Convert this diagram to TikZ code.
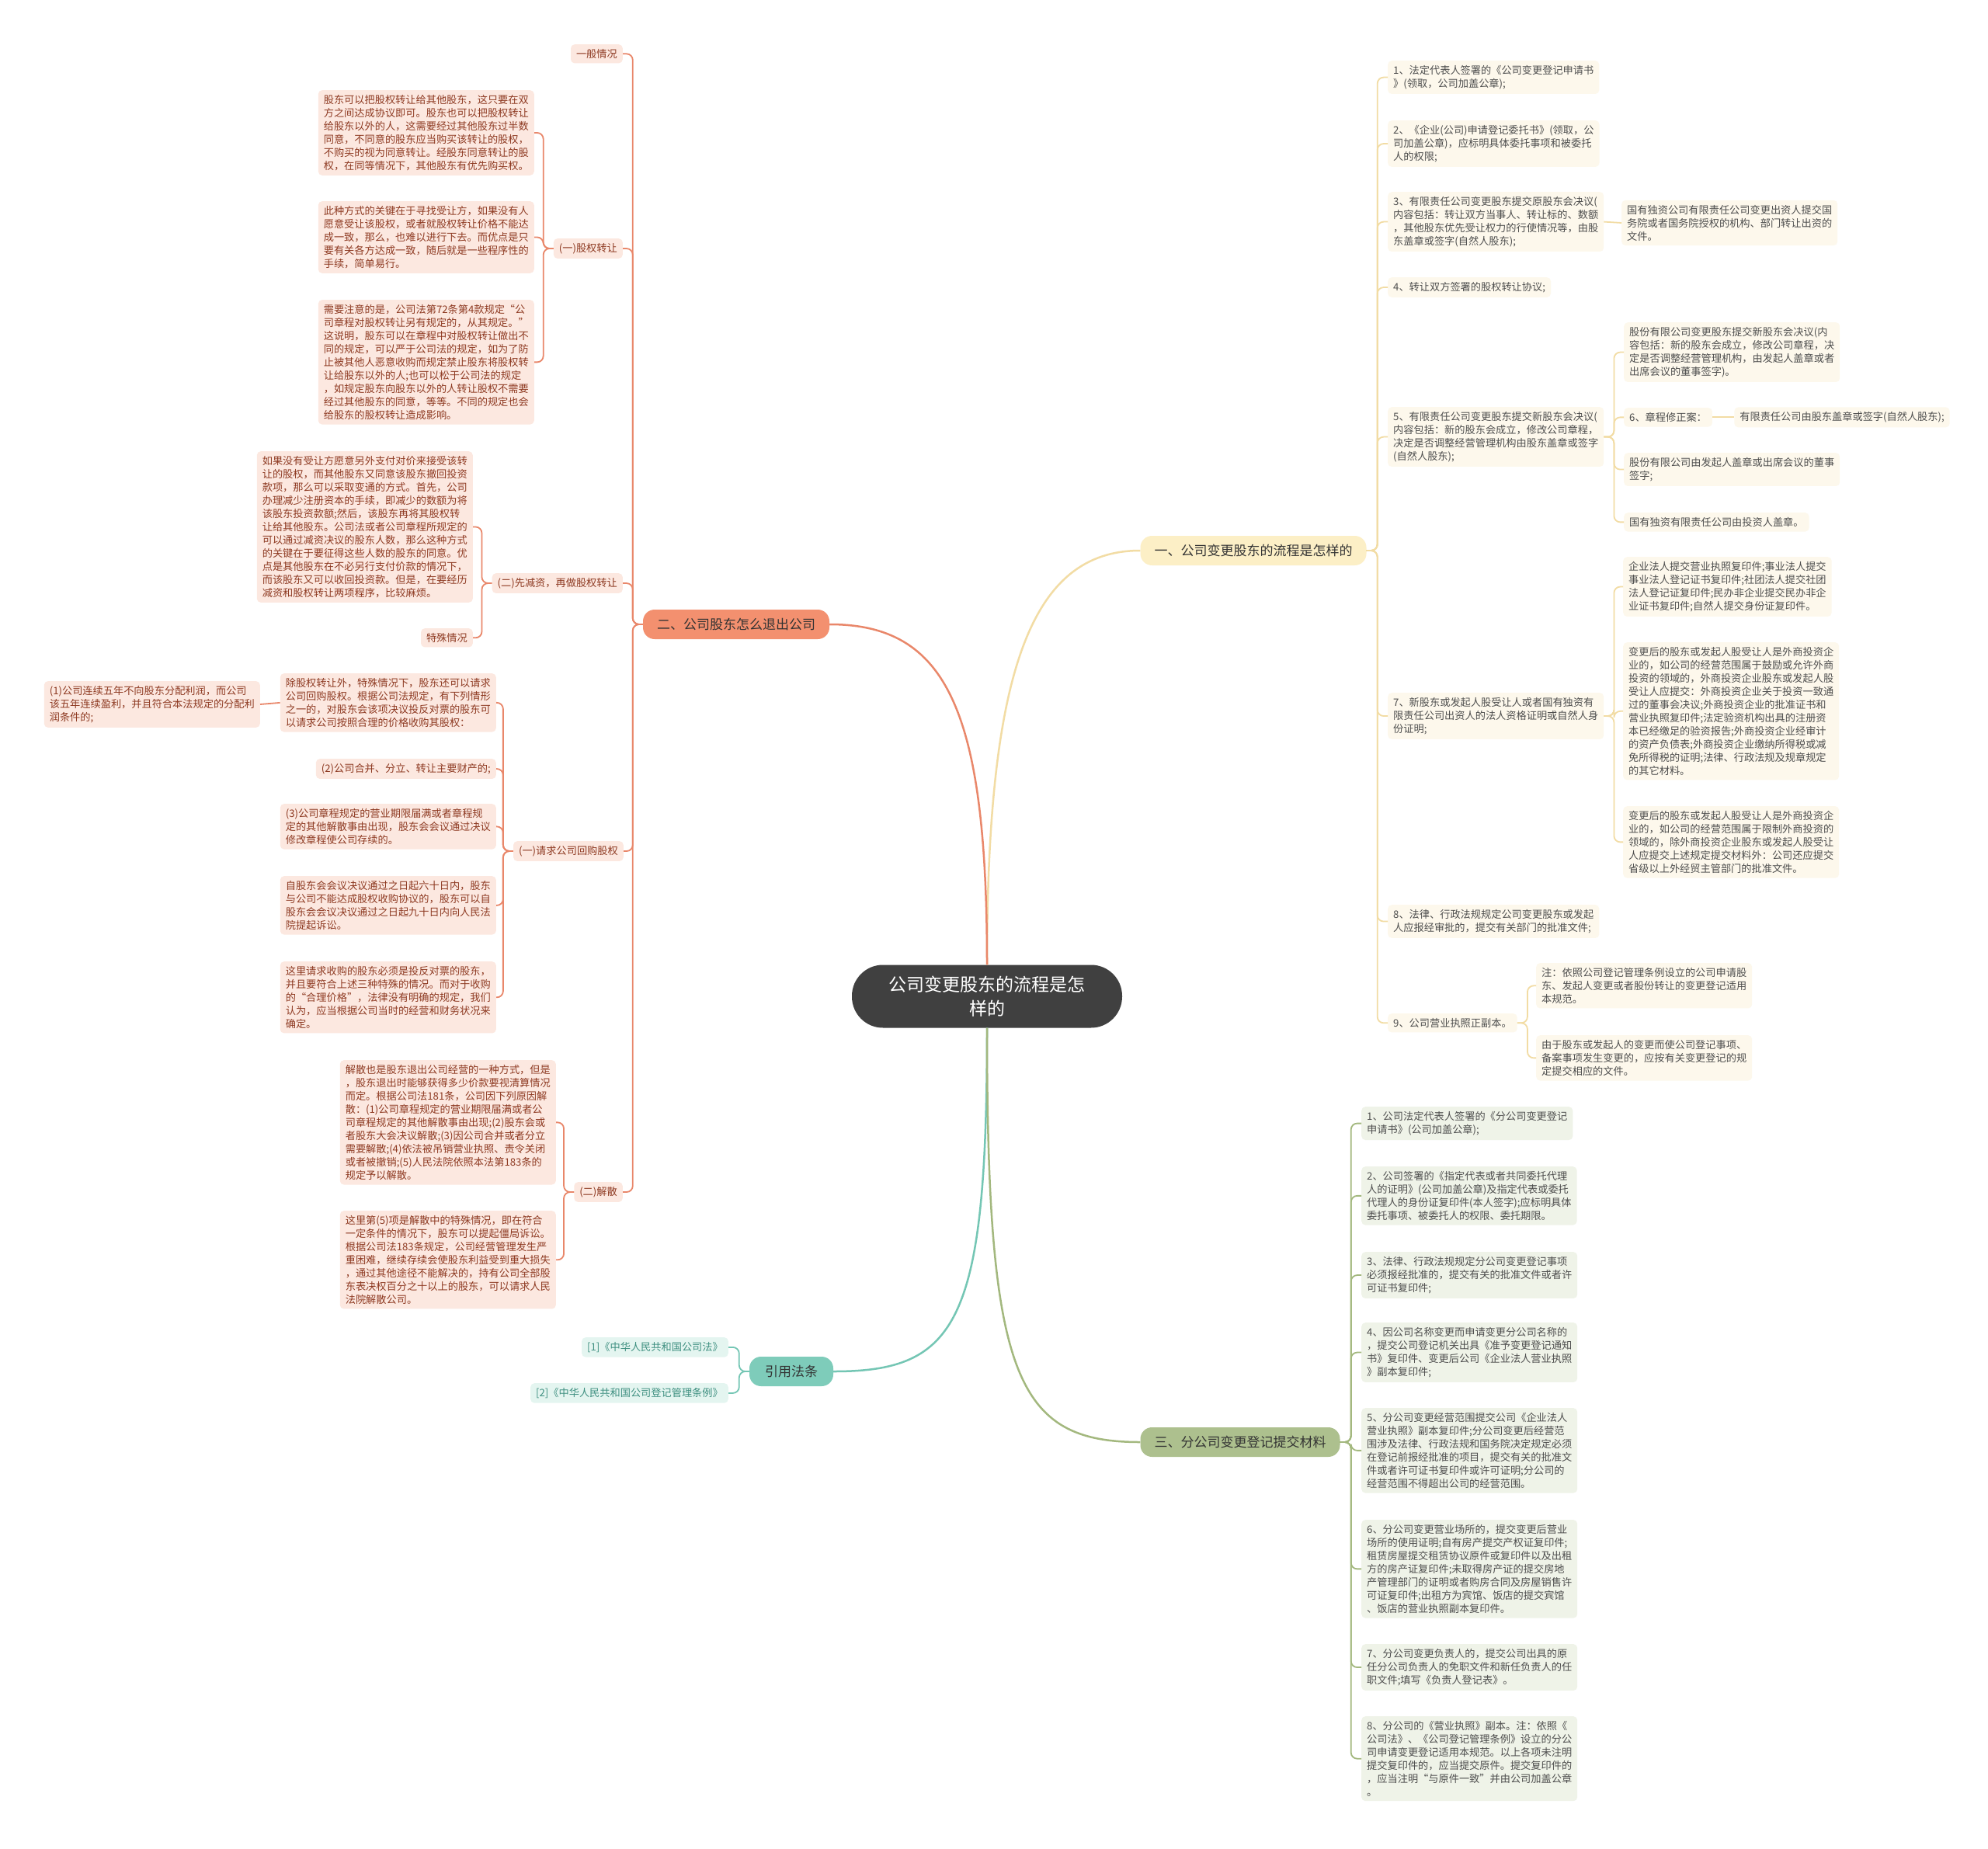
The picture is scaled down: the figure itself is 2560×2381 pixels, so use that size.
\documentclass[tikz,border=0pt]{standalone}
\usepackage{fontspec}
\setmainfont{Noto Sans CJK SC}
\definecolor{cOfill}{HTML}{FCE8E0}
\definecolor{cOtext}{HTML}{8E3A22}
\definecolor{cOline}{HTML}{E9876A}
\definecolor{cOhead}{HTML}{F3906F}
\definecolor{cYfill}{HTML}{FDF8EC}
\definecolor{cYtext}{HTML}{4E4E4E}
\definecolor{cYline}{HTML}{F2DCA4}
\definecolor{cYhead}{HTML}{FCEFC6}
\definecolor{cGfill}{HTML}{EFF3E8}
\definecolor{cGtext}{HTML}{4E4E4E}
\definecolor{cGline}{HTML}{A3B87E}
\definecolor{cGhead}{HTML}{ADC08E}
\definecolor{cTfill}{HTML}{E4F5F0}
\definecolor{cTtext}{HTML}{3E8F80}
\definecolor{cTline}{HTML}{74C6B4}
\definecolor{cThead}{HTML}{7ECCBA}
\definecolor{cRoot}{HTML}{404040}
\tikzset{
  box/.style={rounded corners=5pt, align=left, inner xsep=7pt, inner ysep=6pt, font=\fontsize{13.2}{17}\selectfont},
  obox/.style={box, fill=cOfill, text=cOtext},
  ybox/.style={box, fill=cYfill, text=cYtext},
  gbox/.style={box, fill=cGfill, text=cGtext},
  tbox/.style={box, fill=cTfill, text=cTtext},
  headbox/.style={rounded corners=15pt, inner xsep=18pt, inner ysep=6pt, minimum height=38pt, font=\fontsize{17}{20}\selectfont, text=black!80},
  oconn/.style={draw=cOline, line width=1.8pt, rounded corners=8pt},
  yconn/.style={draw=cYline, line width=1.8pt, rounded corners=8pt},
  gconn/.style={draw=cGline, line width=1.8pt, rounded corners=8pt},
  tconn/.style={draw=cTline, line width=1.8pt, rounded corners=8pt},
}
\begin{document}
\begin{tikzpicture}[x=1pt,y=-1pt]
\path[use as bounding box, fill=white] (0,0) rectangle (2560,2381);

% root
\node[fill=cRoot, text=white, rounded corners=40pt, minimum width=348pt, minimum height=81pt, align=center, font=\fontsize{23}{31}\selectfont] (root) at (1271,1283) {公司变更股东的流程是怎\\样的};

% headers
\node[headbox, fill=cYhead] (h1) at (1614,709) {一、公司变更股东的流程是怎样的};
\node[headbox, fill=cOhead] (h2) at (948,804) {二、公司股东怎么退出公司};
\node[headbox, fill=cGhead] (h3) at (1597,1857) {三、分公司变更登记提交材料};
\node[headbox, fill=cThead, inner xsep=20pt] (h4) at (1019,1766) {引用法条};

\draw[cYline, line width=2.5pt] (root.north) .. controls +(0,-380) and +(-140,0) .. (h1.west);
\draw[cOline, line width=2.5pt] (root.north) .. controls +(0,-330) and +(150,0) .. (h2.east);
\draw[cTline, line width=2.5pt] (root.south) .. controls +(0,380) and +(160,0) .. (h4.east);
\draw[cGline, line width=2.5pt] (root.south) .. controls +(0,450) and +(-160,0) .. (h3.west);

% ===== Section 2 (orange, left) =====
\node[obox, anchor=north east] (o1) at (802,57) {一般情况};
\node[obox, anchor=north east] (o2) at (802,307) {(一)股权转让};
\node[obox, anchor=north east] (t1) at (688,116) {股东可以把股权转让给其他股东，这只要在双\\方之间达成协议即可。股东也可以把股权转让\\给股东以外的人，这需要经过其他股东过半数\\同意，不同意的股东应当购买该转让的股权，\\不购买的视为同意转让。经股东同意转让的股\\权，在同等情况下，其他股东有优先购买权。};
\node[obox, anchor=north east] (t2) at (688,259) {此种方式的关键在于寻找受让方，如果没有人\\愿意受让该股权，或者就股权转让价格不能达\\成一致，那么，也难以进行下去。而优点是只\\要有关各方达成一致，随后就是一些程序性的\\手续，简单易行。};
\node[obox, anchor=north east] (t3) at (688,386) {需要注意的是，公司法第72条第4款规定“公\\司章程对股权转让另有规定的，从其规定。”\\这说明，股东可以在章程中对股权转让做出不\\同的规定，可以严于公司法的规定，如为了防\\止被其他人恶意收购而规定禁止股东将股权转\\让给股东以外的人;也可以松于公司法的规定\\，如规定股东向股东以外的人转让股权不需要\\经过其他股东的同意，等等。不同的规定也会\\给股东的股权转让造成影响。};
\node[obox, anchor=north east] (o3) at (802,738) {(二)先减资，再做股权转让};
\node[obox, anchor=north east] (d1) at (609,581) {如果没有受让方愿意另外支付对价来接受该转\\让的股权，而其他股东又同意该股东撤回投资\\款项，那么可以采取变通的方式。首先，公司\\办理减少注册资本的手续，即减少的数额为将\\该股东投资款额;然后，该股东再将其股权转\\让给其他股东。公司法或者公司章程所规定的\\可以通过减资决议的股东人数，那么这种方式\\的关键在于要征得这些人数的股东的同意。优\\点是其他股东在不必另行支付价款的情况下，\\而该股东又可以收回投资款。但是，在要经历\\减资和股权转让两项程序，比较麻烦。};
\node[obox, anchor=north east] (d2) at (609,809) {特殊情况};
\node[obox, anchor=north east] (o4) at (803,1083) {(一)请求公司回购股权};
\node[obox, anchor=north east] (r1) at (639,867) {除股权转让外，特殊情况下，股东还可以请求\\公司回购股权。根据公司法规定，有下列情形\\之一的，对股东会该项决议投反对票的股东可\\以请求公司按照合理的价格收购其股权：};
\node[obox, anchor=east] (r1c) at (335,907) {(1)公司连续五年不向股东分配利润，而公司\\该五年连续盈利，并且符合本法规定的分配利\\润条件的;};
\node[obox, anchor=north east] (r2) at (639,977) {(2)公司合并、分立、转让主要财产的;};
\node[obox, anchor=north east] (r3) at (639,1035) {(3)公司章程规定的营业期限届满或者章程规\\定的其他解散事由出现，股东会会议通过决议\\修改章程使公司存续的。};
\node[obox, anchor=north east] (r4) at (639,1128) {自股东会会议决议通过之日起六十日内，股东\\与公司不能达成股权收购协议的，股东可以自\\股东会会议决议通过之日起九十日内向人民法\\院提起诉讼。};
\node[obox, anchor=north east] (r5) at (639,1238) {这里请求收购的股东必须是投反对票的股东，\\并且要符合上述三种特殊的情况。而对于收购\\的“合理价格”，法律没有明确的规定，我们\\认为，应当根据公司当时的经营和财务状况来\\确定。};
\node[obox, anchor=north east] (o5) at (802,1522) {(二)解散};
\node[obox, anchor=north east] (j1) at (716,1365) {解散也是股东退出公司经营的一种方式，但是\\，股东退出时能够获得多少价款要视清算情况\\而定。根据公司法181条，公司因下列原因解\\散：(1)公司章程规定的营业期限届满或者公\\司章程规定的其他解散事由出现;(2)股东会或\\者股东大会决议解散;(3)因公司合并或者分立\\需要解散;(4)依法被吊销营业执照、责令关闭\\或者被撤销;(5)人民法院依照本法第183条的\\规定予以解散。};
\node[obox, anchor=north east] (j2) at (716,1559) {这里第(5)项是解散中的特殊情况，即在符合\\一定条件的情况下，股东可以提起僵局诉讼。\\根据公司法183条规定，公司经营管理发生严\\重困难，继续存续会使股东利益受到重大损失\\，通过其他途径不能解决的，持有公司全部股\\东表决权百分之十以上的股东，可以请求人民\\法院解散公司。};

\foreach \c in {o1,o2,o3,o4,o5} \draw[oconn] (h2.west) -- ++(-13,0) |- (\c.east);
\foreach \c in {t1,t2,t3} \draw[oconn] (o2.west) -- ++(-13,0) |- (\c.east);
\foreach \c in {d1,d2} \draw[oconn] (o3.west) -- ++(-13,0) |- (\c.east);
\foreach \c in {r1,r2,r3,r4,r5} \draw[oconn] (o4.west) -- ++(-13,0) |- (\c.east);
\draw[oconn] (r1.west) -- (r1c.east);
\foreach \c in {j1,j2} \draw[oconn] (o5.west) -- ++(-13,0) |- (\c.east);

% ===== Section 1 (yellow, right) =====
\node[ybox, anchor=north west] (i1) at (1787,78) {1、法定代表人签署的《公司变更登记申请书\\》(领取，公司加盖公章);};
\node[ybox, anchor=north west] (i2) at (1787,155) {2、《企业(公司)申请登记委托书》(领取，公\\司加盖公章)，应标明具体委托事项和被委托\\人的权限;};
\node[ybox, anchor=north west] (i3) at (1787,247) {3、有限责任公司变更股东提交原股东会决议(\\内容包括：转让双方当事人、转让标的、数额\\，其他股东优先受让权力的行使情况等，由股\\东盖章或签字(自然人股东);};
\node[ybox, anchor=west] (i3c) at (2088,287) {国有独资公司有限责任公司变更出资人提交国\\务院或者国务院授权的机构、部门转让出资的\\文件。};
\node[ybox, anchor=north west] (i4) at (1787,357) {4、转让双方签署的股权转让协议;};
\node[ybox, anchor=north west] (i5) at (1787,524) {5、有限责任公司变更股东提交新股东会决议(\\内容包括：新的股东会成立，修改公司章程，\\决定是否调整经营管理机构由股东盖章或签字\\(自然人股东);};
\node[ybox, anchor=north west] (i5a) at (2091,415) {股份有限公司变更股东提交新股东会决议(内\\容包括：新的股东会成立，修改公司章程，决\\定是否调整经营管理机构，由发起人盖章或者\\出席会议的董事签字)。};
\node[ybox, anchor=north west] (i5b) at (2091,525) {6、章程修正案：};
\node[ybox, anchor=west] (i5b1) at ([xshift=28pt]i5b.east) {有限责任公司由股东盖章或签字(自然人股东);};
\node[ybox, anchor=north west] (i5c) at (2091,583) {股份有限公司由发起人盖章或出席会议的董事\\签字;};
\node[ybox, anchor=north west] (i5d) at (2091,660) {国有独资有限责任公司由投资人盖章。};
\node[ybox, anchor=north west] (i7) at (1787,892) {7、新股东或发起人股受让人或者国有独资有\\限责任公司出资人的法人资格证明或自然人身\\份证明;};
\node[ybox, anchor=north west] (i7a) at (2090,717) {企业法人提交营业执照复印件;事业法人提交\\事业法人登记证书复印件;社团法人提交社团\\法人登记证复印件;民办非企业提交民办非企\\业证书复印件;自然人提交身份证复印件。};
\node[ybox, anchor=north west] (i7b) at (2090,827) {变更后的股东或发起人股受让人是外商投资企\\业的，如公司的经营范围属于鼓励或允许外商\\投资的领域的，外商投资企业股东或发起人股\\受让人应提交：外商投资企业关于投资一致通\\过的董事会决议;外商投资企业的批准证书和\\营业执照复印件;法定验资机构出具的注册资\\本已经缴足的验资报告;外商投资企业经审计\\的资产负债表;外商投资企业缴纳所得税或减\\免所得税的证明;法律、行政法规及规章规定\\的其它材料。};
\node[ybox, anchor=north west] (i7c) at (2090,1038) {变更后的股东或发起人股受让人是外商投资企\\业的，如公司的经营范围属于限制外商投资的\\领域的，除外商投资企业股东或发起人股受让\\人应提交上述规定提交材料外：公司还应提交\\省级以上外经贸主管部门的批准文件。};
\node[ybox, anchor=north west] (i8) at (1787,1165) {8、法律、行政法规规定公司变更股东或发起\\人应报经审批的，提交有关部门的批准文件;};
\node[ybox, anchor=north west] (i9) at (1787,1305) {9、公司营业执照正副本。};
\node[ybox, anchor=north west] (i9a) at (1978,1240) {注：依照公司登记管理条例设立的公司申请股\\东、发起人变更或者股份转让的变更登记适用\\本规范。};
\node[ybox, anchor=north west] (i9b) at (1978,1333) {由于股东或发起人的变更而使公司登记事项、\\备案事项发生变更的，应按有关变更登记的规\\定提交相应的文件。};

\foreach \c in {i1,i2,i3,i4,i5,i7,i8,i9} \draw[yconn] (h1.east) -- ++(14,0) |- (\c.west);
\draw[yconn] (i3.east) -- (i3c.west);
\foreach \c in {i5a,i5b,i5c,i5d} \draw[yconn] (i5.east) -- ++(13,0) |- (\c.west);
\draw[yconn] (i5b.east) -- (i5b1.west);
\foreach \c in {i7a,i7b,i7c} \draw[yconn] (i7.east) -- ++(13,0) |- (\c.west);
\foreach \c in {i9a,i9b} \draw[yconn] (i9.east) -- ++(13,0) |- (\c.west);

% ===== Section 3 (green) =====
\node[gbox, anchor=north west] (g1) at (1753,1425) {1、公司法定代表人签署的《分公司变更登记\\申请书》(公司加盖公章);};
\node[gbox, anchor=north west] (g2) at (1753,1502) {2、公司签署的《指定代表或者共同委托代理\\人的证明》(公司加盖公章)及指定代表或委托\\代理人的身份证复印件(本人签字);应标明具体\\委托事项、被委托人的权限、委托期限。};
\node[gbox, anchor=north west] (g3) at (1753,1612) {3、法律、行政法规规定分公司变更登记事项\\必须报经批准的，提交有关的批准文件或者许\\可证书复印件;};
\node[gbox, anchor=north west] (g4) at (1753,1703) {4、因公司名称变更而申请变更分公司名称的\\，提交公司登记机关出具《准予变更登记通知\\书》复印件、变更后公司《企业法人营业执照\\》副本复印件;};
\node[gbox, anchor=north west] (g5) at (1753,1813) {5、分公司变更经营范围提交公司《企业法人\\营业执照》副本复印件;分公司变更后经营范\\围涉及法律、行政法规和国务院决定规定必须\\在登记前报经批准的项目，提交有关的批准文\\件或者许可证书复印件或许可证明;分公司的\\经营范围不得超出公司的经营范围。};
\node[gbox, anchor=north west] (g6) at (1753,1957) {6、分公司变更营业场所的，提交变更后营业\\场所的使用证明;自有房产提交产权证复印件;\\租赁房屋提交租赁协议原件或复印件以及出租\\方的房产证复印件;未取得房产证的提交房地\\产管理部门的证明或者购房合同及房屋销售许\\可证复印件;出租方为宾馆、饭店的提交宾馆\\、饭店的营业执照副本复印件。};
\node[gbox, anchor=north west] (g7) at (1753,2117) {7、分公司变更负责人的，提交公司出具的原\\任分公司负责人的免职文件和新任负责人的任\\职文件;填写《负责人登记表》。};
\node[gbox, anchor=north west] (g8) at (1753,2210) {8、分公司的《营业执照》副本。注：依照《\\公司法》、《公司登记管理条例》设立的分公\\司申请变更登记适用本规范。以上各项未注明\\提交复印件的，应当提交原件。提交复印件的\\，应当注明“与原件一致”并由公司加盖公章\\。};

\foreach \c in {g1,g2,g3,g4,g5,g6,g7,g8} \draw[gconn] (h3.east) -- ++(14,0) |- (\c.west);

% ===== 引用法条 =====
\node[tbox, anchor=north east] (c1) at (938,1722) {[1]《中华人民共和国公司法》};
\node[tbox, anchor=north east] (c2) at (938,1781) {[2]《中华人民共和国公司登记管理条例》};
\foreach \c in {c1,c2} \draw[tconn] (h4.west) -- ++(-13,0) |- (\c.east);

\end{tikzpicture}
\end{document}
